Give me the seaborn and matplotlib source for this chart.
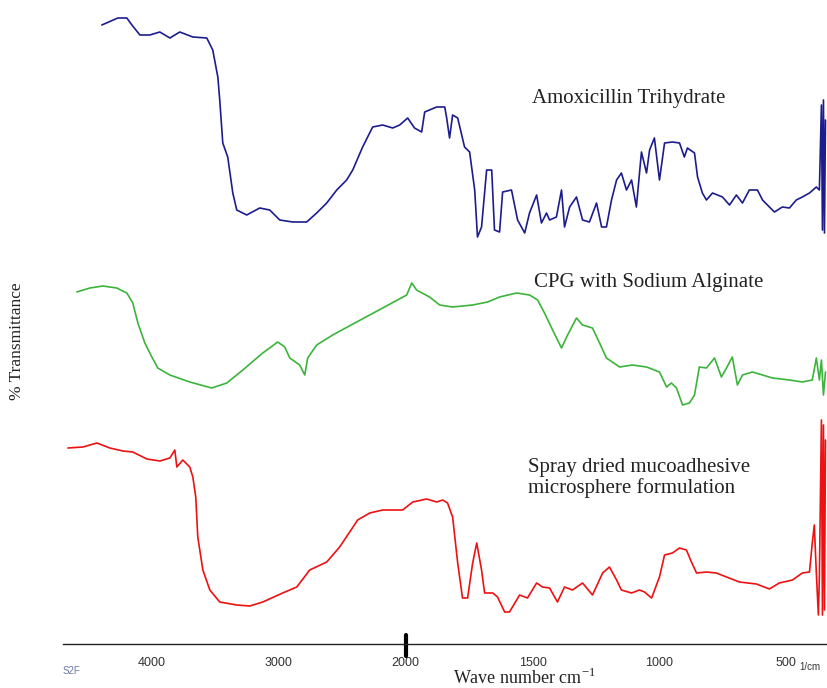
import numpy as np
import pandas as pd
import matplotlib
matplotlib.use("Agg")
import matplotlib.pyplot as plt
import seaborn as sns

# ---- FTIR data (wave number in 1/cm, stacked % transmittance) ----
amox_wn = [4394, 4268, 4197, 4157, 4094, 4016, 3937, 3858, 3780, 3677,
           3567, 3520, 3480, 3465, 3441, 3402, 3362, 3331, 3252, 3150,
           3071, 2992, 2890, 2780, 2701, 2622, 2543, 2465, 2417, 2339,
           2260, 2181, 2102, 2047, 1992, 1965, 1937, 1925, 1878, 1846,
           1839, 1827, 1815, 1795, 1768, 1748, 1728, 1717, 1701, 1681,
           1661, 1650, 1630, 1618, 1583, 1559, 1531, 1512, 1484, 1465,
           1445, 1433, 1406, 1386, 1374, 1354, 1327, 1303, 1276, 1248,
           1228, 1209, 1189, 1169, 1150, 1130, 1110, 1091, 1071, 1051,
           1039, 1020, 1000, 980, 949, 921, 902, 890, 862, 850,
           831, 815, 791, 752, 724, 697, 673, 646, 614, 594,
           567, 547, 516, 488, 461, 437, 409, 382, 370, 362,
           358, 354, 350, 346]
amox_t = [619, 626, 626, 619, 609, 609, 612, 606, 612, 607,
          606, 594, 567, 544, 501, 487, 451, 434, 429, 436,
          434, 424, 422, 422, 431, 441, 454, 464, 474, 497,
          517, 519, 516, 519, 526, 516, 512, 532, 537, 537,
          527, 506, 529, 526, 497, 492, 454, 407, 417, 474,
          474, 414, 412, 452, 454, 424, 411, 431, 449, 421,
          431, 424, 427, 454, 417, 437, 447, 424, 422, 441,
          417, 417, 444, 464, 471, 454, 464, 437, 492, 471,
          494, 506, 464, 501, 502, 501, 487, 496, 491, 467,
          451, 444, 451, 447, 439, 449, 441, 454, 454, 444,
          437, 432, 437, 436, 444, 447, 451, 457, 454, 539,
          414, 544, 411, 524]

cpg_wn = [4591, 4488, 4386, 4276, 4197, 4150, 4110, 4055, 4000, 3953,
          3858, 3701, 3528, 3409, 3283, 3126, 3008, 2953, 2913, 2835,
          2795, 2772, 2701, 2575, 2386, 2181, 1996, 1976, 1957, 1906,
          1866, 1815, 1736, 1677, 1630, 1563, 1512, 1480, 1453, 1421,
          1386, 1362, 1327, 1303, 1264, 1236, 1209, 1157, 1106, 1051,
          1000, 972, 953, 933, 909, 882, 862, 843, 815, 783,
          756, 736, 713, 693, 673, 634, 594, 555, 488, 437,
          398, 382, 370, 362, 354, 346]
cpg_t = [352, 356, 358, 356, 351, 341, 321, 301, 287, 276,
         269, 262, 256, 261, 274, 291, 302, 297, 286, 279,
         269, 286, 299, 309, 322, 336, 349, 361, 354, 347,
         339, 337, 339, 342, 347, 351, 349, 344, 331, 314,
         296, 309, 326, 319, 316, 301, 286, 277, 279, 277,
         272, 257, 261, 256, 239, 241, 249, 277, 276, 286,
         267, 276, 287, 259, 269, 272, 269, 266, 264, 262,
         264, 286, 264, 284, 249, 272]

spray_wn = [4661, 4543, 4433, 4331, 4228, 4150, 4039, 3937, 3858, 3819,
            3803, 3756, 3701, 3677, 3654, 3638, 3598, 3543, 3465, 3331,
            3228, 3126, 2969, 2858, 2756, 2622, 2520, 2441, 2378, 2283,
            2181, 2024, 1972, 1917, 1878, 1854, 1835, 1815, 1795, 1776,
            1756, 1736, 1720, 1701, 1689, 1657, 1638, 1610, 1591, 1551,
            1520, 1484, 1461, 1433, 1402, 1374, 1343, 1303, 1264, 1224,
            1197, 1169, 1150, 1110, 1079, 1059, 1031, 1000, 980, 949,
            921, 894, 874, 854, 815, 776, 736, 685, 618, 567,
            528, 476, 437, 409, 398, 390, 382, 374, 370, 362,
            358, 354, 350, 346]
spray_t = [196, 197, 201, 196, 193, 192, 185, 183, 186, 194,
           177, 184, 177, 167, 147, 107, 74, 54, 42, 39,
           38, 42, 51, 57, 74, 82, 97, 112, 124, 131,
           134, 134, 142, 145, 142, 144, 141, 127, 81, 46,
           46, 81, 101, 74, 51, 51, 47, 32, 32, 49,
           46, 61, 57, 56, 42, 57, 54, 61, 49, 71,
           77, 64, 54, 51, 54, 52, 46, 67, 89, 91,
           96, 94, 82, 71, 72, 71, 67, 62, 60, 55,
           61, 64, 71, 72, 101, 119, 71, 29, 67, 224,
           29, 219, 34, 204]

sample_names = ["Amoxicillin Trihydrate", "CPG with Sodium Alginate",
                "Spray dried mucoadhesive", "microsphere formulation"]
major_ticks = [4000, 3000, 2000, 1500, 1000, 500]
major_labels = ["4000", "3000", "2000", "1500", "1000", "500"]


def fwd(w):
    # Shimadzu style axis: 2x expansion below 2000 1/cm
    w = np.asarray(w, dtype=float)
    return np.where(w >= 2000, w, 2 * w - 2000)


def inv(u):
    u = np.asarray(u, dtype=float)
    return np.where(u >= 2000, u, (u + 2000) / 2)


sns.set_style("white")
plt.rcParams["mathtext.fontset"] = "custom"
plt.rcParams["mathtext.rm"] = "Liberation Serif"

W, H = 827, 688
fig = plt.figure(figsize=(W / 100, H / 100), dpi=100)
ax = fig.add_axes([63 / W, 44 / H, 764 / W, 644 / H])

curves = [(amox_wn, amox_t, "#1c1c8e"),
          (cpg_wn, cpg_t, "#3cb43c"),
          (spray_wn, spray_t, "#ee1111")]
for wn, t, col in curves:
    df = pd.DataFrame({"wn": wn, "t": t})
    sns.lineplot(data=df, x="wn", y="t", sort=False, estimator=None,
                 color=col, lw=1.2, ax=ax)

ax.set_xscale("function", functions=(fwd, inv))
ax.set_xlim(4700, 340)
ax.set_ylim(0, 644)

for s in ["top", "left", "right"]:
    ax.spines[s].set_visible(False)
ax.spines["bottom"].set_color("#222222")
ax.spines["bottom"].set_linewidth(1.0)

ax.set_xticks([4700] + major_ticks)
ax.set_xticklabels([""] + major_labels, fontsize=9, color="#333333",
                   family="Liberation Sans")
minor = [w for w in range(4600, 2000, -200) if w not in major_ticks]
minor += [w for w in range(1900, 300, -100) if w not in major_ticks]
ax.set_xticks(minor, minor=True)
ax.tick_params(axis="x", which="major", direction="in", length=6, width=1,
               color="#444444", pad=9)
ax.tick_params(axis="x", which="minor", direction="out", length=5, width=1,
               color="#444444")
ax.set_yticks([])
ax.set_xlabel("")
ax.set_ylabel("")
# scale-change marker at 2000
ax.axvline(2000, ymin=-0.019, ymax=0.014, lw=3, color="black", clip_on=False)

# sample labels
serif = "Liberation Serif"
lab = dict(ha="left", va="baseline", fontsize=15, family=serif,
           color="#222222")
fig.text(532 / W, 1 - 103 / H, sample_names[0], **lab)
fig.text(534 / W, 1 - 287 / H, sample_names[1], **lab)
fig.text(528 / W, 1 - 472 / H, sample_names[2], **lab)
fig.text(528 / W, 1 - 493 / H, sample_names[3], **lab)

fig.text(17 / W, 1 - 341 / H, "% Transmittance", rotation=90, ha="center",
         va="center", fontsize=12.5, family=serif, color="#222222")
fig.text(524 / W, 1 - 684 / H, "Wave number cm$^{-1}$", ha="center",
         va="baseline", fontsize=13, family=serif, color="#222222")
fig.text(63 / W, 1 - 671 / H, "S2F", ha="left", va="center", fontsize=7,
         color="#6a78a8", family="Liberation Sans")
fig.text(810 / W, 1 - 667 / H, "1/cm", ha="center", va="center", fontsize=7,
         color="#333333", family="Liberation Sans")

fig.savefig("out.png", dpi=100)
